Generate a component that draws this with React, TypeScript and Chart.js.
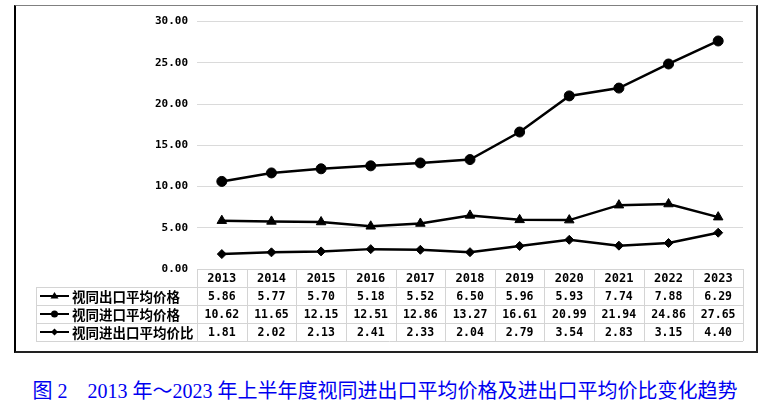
import React, { useEffect, useRef } from "react";
import { Chart, registerables } from "chart.js";

Chart.register(...registerables);

const years = ["2013", "2014", "2015", "2016", "2017", "2018", "2019", "2020", "2021", "2022", "2023"];
const exportPrice = [5.86, 5.77, 5.7, 5.18, 5.52, 6.5, 5.96, 5.93, 7.74, 7.88, 6.29];
const importPrice = [10.62, 11.65, 12.15, 12.51, 12.86, 13.27, 16.61, 20.99, 21.94, 24.86, 27.65];
const priceRatio = [1.81, 2.02, 2.13, 2.41, 2.33, 2.04, 2.79, 3.54, 2.83, 3.15, 4.4];
const seriesNames = ["视同出口平均价格", "视同进口平均价格", "视同进出口平均价比"];
const pointStyles = ["triangle", "circle", "rectRot"];
const pointRadii = [5.5, 5, 4.5];
const yMin = 0;
const yMax = 30;
const yStep = 5;
const caption = "图 2　2013 年～2023 年上半年度视同进出口平均价格及进出口平均价比变化趋势";

const MONO = '"DejaVu Sans Mono", monospace';
const CJK = '"Noto Sans CJK SC", sans-serif';

const tablePlugin = {
  id: "dataTable",
  afterDraw(chart: any) {
    const ctx = chart.ctx;
    const xs = chart.scales.x;
    const area = chart.chartArea;
    const colW = xs.getPixelForValue(1) - xs.getPixelForValue(0);
    const left = area.left;
    const right = area.right;
    const top = area.bottom;
    const rowH = 18;
    const labelLeft = 21;
    const series = [exportPrice, importPrice, priceRatio];
    ctx.save();
    ctx.strokeStyle = "#d4d4d4";
    ctx.lineWidth = 1;
    ctx.beginPath();
    const hy = (y: number) => Math.round(y) + 0.5;
    ctx.moveTo(left, hy(top));
    ctx.lineTo(right, hy(top));
    for (let r = 1; r <= 4; r++) {
      ctx.moveTo(labelLeft, hy(top + r * rowH));
      ctx.lineTo(right, hy(top + r * rowH));
    }
    ctx.moveTo(hy(labelLeft), top + rowH);
    ctx.lineTo(hy(labelLeft), top + 4 * rowH);
    for (let k = 0; k <= years.length; k++) {
      const x = hy(left + k * colW);
      ctx.moveTo(x, top);
      ctx.lineTo(x, top + 4 * rowH);
    }
    ctx.stroke();

    ctx.fillStyle = "#000";
    ctx.textAlign = "center";
    ctx.textBaseline = "middle";
    ctx.font = `bold 12px ${MONO}`;
    years.forEach((yr, i) => {
      ctx.fillText(yr, xs.getPixelForValue(i), top + rowH / 2 + 1);
    });
    ctx.font = `bold 11.5px ${MONO}`;
    series.forEach((vals, r) => {
      const cy = top + (r + 1) * rowH + rowH / 2 + 1;
      vals.forEach((v, i) => {
        ctx.fillText(v.toFixed(2), xs.getPixelForValue(i), cy);
      });
    });

    // legend keys
    series.forEach((_, r) => {
      const cy = top + (r + 1) * rowH + rowH / 2;
      ctx.strokeStyle = "#000";
      ctx.lineWidth = 2;
      ctx.beginPath();
      ctx.moveTo(25, cy);
      ctx.lineTo(54, cy);
      ctx.stroke();
      ctx.fillStyle = "#000";
      const mx = 39.5;
      ctx.beginPath();
      if (pointStyles[r] === "triangle") {
        ctx.moveTo(mx, cy - 4);
        ctx.lineTo(mx + 4, cy + 2.5);
        ctx.lineTo(mx - 4, cy + 2.5);
        ctx.closePath();
      } else if (pointStyles[r] === "circle") {
        ctx.arc(mx, cy, 3.5, 0, Math.PI * 2);
      } else {
        ctx.moveTo(mx, cy - 3.5);
        ctx.lineTo(mx + 3.5, cy);
        ctx.lineTo(mx, cy + 3.5);
        ctx.lineTo(mx - 3.5, cy);
        ctx.closePath();
      }
      ctx.fill();
      ctx.textAlign = "left";
      ctx.font = `bold 13.5px ${CJK}`;
      ctx.fillText(seriesNames[r], 57, cy + 1);
    });
    ctx.restore();
  },
};

export default function App() {
  const ref = useRef<HTMLCanvasElement | null>(null);
  useEffect(() => {
    if (!ref.current) return;
    const values = [exportPrice, importPrice, priceRatio];
    const chart = new Chart(ref.current, {
      type: "line",
      data: {
        labels: years,
        datasets: values.map((vals, i) => ({
          label: seriesNames[i],
          data: vals,
          borderColor: "#000",
          backgroundColor: "#000",
          borderWidth: 2.5,
          pointStyle: pointStyles[i] as any,
          pointRadius: pointRadii[i],
          pointBorderWidth: 1,
          pointBackgroundColor: "#000",
          pointBorderColor: "#000",
          tension: 0,
        })),
      },
      options: {
        animation: false,
        responsive: false,
        maintainAspectRatio: false,
        layout: { padding: { left: 0, right: 14, top: 12, bottom: 83 } },
        plugins: {
          legend: { display: false },
          tooltip: { enabled: false },
          title: { display: false },
        },
        scales: {
          x: { type: "category", display: false, offset: true },
          y: {
            min: yMin,
            max: yMax,
            ticks: {
              stepSize: yStep,
              padding: 9,
              color: "#000",
              font: { family: MONO, weight: "bold", size: 11 },
              callback: (v: any) => Number(v).toFixed(2),
            },
            grid: { color: "#dadada", drawTicks: false, lineWidth: 1 },
            border: { display: false },
            afterFit: (s: any) => {
              s.width = 182;
            },
          },
        },
      },
      plugins: [tablePlugin],
    });
    return () => chart.destroy();
  }, []);

  return (
    <div style={{ position: "absolute", left: 0, top: 0, width: 770, height: 410, background: "#fff" }}>
      <div
        style={{
          position: "absolute",
          left: 14,
          top: 5,
          width: 740,
          height: 345,
          borderTop: "1.5px solid #808080",
          borderLeft: "2px solid #000",
          borderRight: "2px solid #222",
          borderBottom: "2px solid #222",
        }}
      />
      <canvas ref={ref} width={742} height={346} style={{ position: "absolute", left: 15, top: 6, width: 742, height: 346 }} />
      <div
        style={{
          position: "absolute",
          left: 0,
          top: 379,
          width: 770,
          textAlign: "center",
          fontSize: 20,
          lineHeight: "24px",
          color: "#0000f0",
          fontFamily: '"Liberation Serif", "Noto Sans CJK SC", serif',
          whiteSpace: "pre",
        }}
      >
        {caption}
      </div>
    </div>
  );
}
